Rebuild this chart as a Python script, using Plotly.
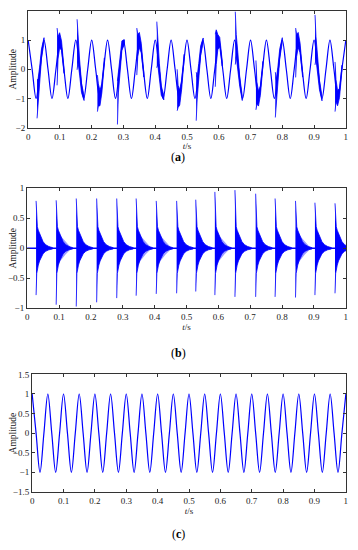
import plotly.graph_objects as go

# ---------------- data ----------------
# 20 Hz carrier, key points every quarter period (peaks / zero crossings / troughs)
sine_t = [0, 0.0125, 0.025, 0.0375, 0.05, 0.0625, 0.075, 0.0875, 0.1, 0.1125,
          0.125, 0.1375, 0.15, 0.1625, 0.175, 0.1875, 0.2, 0.2125, 0.225, 0.2375,
          0.25, 0.2625, 0.275, 0.2875, 0.3, 0.3125, 0.325, 0.3375, 0.35, 0.3625,
          0.375, 0.3875, 0.4, 0.4125, 0.425, 0.4375, 0.45, 0.4625, 0.475, 0.4875,
          0.5, 0.5125, 0.525, 0.5375, 0.55, 0.5625, 0.575, 0.5875, 0.6, 0.6125,
          0.625, 0.6375, 0.65, 0.6625, 0.675, 0.6875, 0.7, 0.7125, 0.725, 0.7375,
          0.75, 0.7625, 0.775, 0.7875, 0.8, 0.8125, 0.825, 0.8375, 0.85, 0.8625,
          0.875, 0.8875, 0.9, 0.9125, 0.925, 0.9375, 0.95, 0.9625, 0.975, 0.9875, 1.0]
sine_v = [1, 0, -1, 0, 1, 0, -1, 0, 1, 0, -1, 0, 1, 0, -1, 0, 1, 0, -1, 0,
          1, 0, -1, 0, 1, 0, -1, 0, 1, 0, -1, 0, 1, 0, -1, 0, 1, 0, -1, 0,
          1, 0, -1, 0, 1, 0, -1, 0, 1, 0, -1, 0, 1, 0, -1, 0, 1, 0, -1, 0,
          1, 0, -1, 0, 1, 0, -1, 0, 1, 0, -1, 0, 1, 0, -1, 0, 1, 0, -1, 0, 1]

# impulse instants (s)
imp_t = [0.028, 0.091, 0.154, 0.218, 0.281, 0.342, 0.405, 0.469,
         0.529, 0.589, 0.652, 0.717, 0.778, 0.842, 0.903, 0.966]

# panel (b): impulse peaks
b_pos = [0.79, 0.80, 0.83, 0.83, 0.83, 0.83, 0.79, 0.79,
         0.81, 0.94, 0.97, 0.91, 0.83, 0.79, 0.76, 0.75]
b_neg = [-0.78, -0.94, -0.97, -0.90, -0.83, -0.79, -0.76, -0.75,
         -0.72, -0.78, -0.81, -0.81, -0.81, -0.82, -0.78, -0.75]
# panel (b): common ringing envelope after each impulse
b_off = [0.002, 0.004, 0.007, 0.011, 0.016, 0.022, 0.030, 0.040, 0.052]
b_up = [0.45, 0.36, 0.30, 0.24, 0.17, 0.11, 0.06, 0.03, 0.01]
b_lo = [-0.42, -0.34, -0.28, -0.21, -0.15, -0.09, -0.05, -0.025, -0.01]
# lighter secondary ringing seen after some impulses
echo_idx = [1, 5, 6, 9, 13]
echo_off = [0.004, 0.015, 0.030, 0.045]
echo_up = [0.30, 0.20, 0.10, 0.02]
echo_lo = [-0.30, -0.20, -0.10, -0.02]
baseline_t = [0, 1]
baseline_v = [0, 0]

# panel (a): bursts riding on the carrier
a_hi = [-0.35, 1.41, 1.71, -0.20, -0.40, 1.41, 1.63, 0.00,
        -0.10, 1.20, 1.97, 0.30, -0.10, 1.41, 1.86, 0.25]
a_lo = [-1.68, -0.55, -0.02, -1.45, -1.89, -0.20, 0.05, -1.42,
        -1.76, -0.60, 0.16, -1.39, -1.65, -0.28, 0.15, -1.45]
a_off = [0.003, 0.008, 0.014, 0.022]
a_up = [[-0.35, 0.07, 0.70, 1.08], [1.11, 1.25, 0.97, 0.02], [1.02, 0.32, -0.48, -0.91],
        [-0.50, -0.73, -0.48, 0.39], [-0.05, 0.45, 0.97, 1.01], [1.19, 1.26, 0.89, -0.11],
        [0.92, 0.20, -0.57, -0.89], [-0.55, -0.71, -0.38, 0.51], [-0.26, 0.20, 0.80, 1.07],
        [1.35, 1.19, 1.09, 0.27], [1.19, 0.57, -0.27, -0.91], [-0.43, -0.74, -0.57, 0.27],
        [-0.35, 0.07, 0.70, 1.08], [1.19, 1.26, 0.89, -0.11], [1.11, 0.45, -0.38, -0.92],
        [-0.35, -0.73, -0.65, 0.14]]
a_dn = [[-1.11, -0.45, 0.38, 0.92], [0.35, 0.73, 0.65, -0.14], [0.26, -0.20, -0.80, -1.07],
        [-1.26, -1.25, -0.80, 0.23], [-0.81, -0.07, 0.65, 0.85], [0.43, 0.74, 0.57, -0.27],
        [0.16, -0.32, -0.89, -1.05], [-1.31, -1.23, -0.70, 0.35], [-1.02, -0.32, 0.48, 0.91],
        [0.16, 0.67, 0.77, 0.11], [0.43, 0.05, -0.59, -1.07], [-1.19, -1.26, -0.89, 0.11],
        [-1.11, -0.45, 0.38, 0.92], [0.43, 0.74, 0.57, -0.27], [0.35, -0.07, -0.70, -1.08],
        [-1.11, -1.25, -0.97, -0.02]]

x_ticks = [0, 0.1, 0.2, 0.3, 0.4, 0.5, 0.6, 0.7, 0.8, 0.9, 1]
x_ticklabels = ["0", "0.1", "0.2", "0.3", "0.4", "0.5", "0.6", "0.7", "0.8", "0.9", "1"]
ya_ticks = [-2, -1, 0, 1, 2]
yb_ticks = [-1, -0.5, 0, 0.5, 1]
yc_ticks = [-1.5, -1, -0.5, 0, 0.5, 1, 1.5]
panel_labels = ["(<b>a</b>)", "(<b>b</b>)", "(<b>c</b>)"]

# ---------------- build figure ----------------
BLUE = "#0000ff"
FONT = "Times New Roman, Liberation Serif, serif"
# the page body has an 8px margin: size the figure so it fits the 358x550 window without scrollbars
OFF = 8
W, H = 358 - 2 * OFF, 550 - 2 * OFF


def px_x(x):
    return (x - OFF) / W


def px_y(y):
    return 1 - (y - OFF) / H


fig = go.Figure()


def burst_polygon(ts, hi, lo, offs, ups, dns, per_impulse):
    xs, ys = [], []
    for i, t0 in enumerate(ts):
        up = ups[i] if per_impulse else ups
        dn = dns[i] if per_impulse else dns
        xs += [t0] + [t0 + o for o in offs] + [t0 + o for o in offs[::-1]] + [t0, None]
        ys += [hi[i]] + list(up) + list(dn[::-1]) + [lo[i], None]
    return xs, ys


# panel (a)
fig.add_trace(go.Scatter(x=sine_t, y=sine_v, mode="lines", line=dict(color=BLUE, width=1.2, shape="spline"),
                         xaxis="x", yaxis="y", showlegend=False, hoverinfo="skip"))
ax, ay = burst_polygon(imp_t, a_hi, a_lo, a_off, a_up, a_dn, True)
fig.add_trace(go.Scatter(x=ax, y=ay, mode="lines", fill="toself", fillcolor=BLUE,
                         line=dict(color=BLUE, width=0.8), xaxis="x", yaxis="y", showlegend=False, hoverinfo="skip"))

# panel (b)
fig.add_trace(go.Scatter(x=baseline_t, y=baseline_v, mode="lines", line=dict(color=BLUE, width=1.4),
                         xaxis="x2", yaxis="y2", showlegend=False, hoverinfo="skip"))
et = [imp_t[i] for i in echo_idx]
ex, ey = burst_polygon(et, [0.3] * len(et), [-0.3] * len(et), echo_off, echo_up, echo_lo, False)
fig.add_trace(go.Scatter(x=ex, y=ey, mode="lines", fill="toself", fillcolor="rgba(40,40,255,0.45)",
                         line=dict(width=0), xaxis="x2", yaxis="y2", showlegend=False, hoverinfo="skip"))
bx, by = burst_polygon(imp_t, b_pos, b_neg, b_off, b_up, b_lo, False)
fig.add_trace(go.Scatter(x=bx, y=by, mode="lines", fill="toself", fillcolor=BLUE,
                         line=dict(color=BLUE, width=0.8), xaxis="x2", yaxis="y2", showlegend=False, hoverinfo="skip"))

# panel (c)
fig.add_trace(go.Scatter(x=sine_t, y=sine_v, mode="lines", line=dict(color=BLUE, width=1.2, shape="spline"),
                         xaxis="x3", yaxis="y3", showlegend=False, hoverinfo="skip"))

AXCOL = "#333333"
common_x = dict(range=[-0.0005, 1.0005], tickvals=x_ticks, ticktext=x_ticklabels, ticks="inside", ticklen=3,
                tickcolor=AXCOL, showline=True, linecolor=AXCOL, linewidth=1, mirror="ticks",
                showgrid=False, zeroline=False, automargin=False,
                tickfont=dict(family=FONT, size=9, color="#222"),
                title=dict(text="<i>t</i>/s", font=dict(family=FONT, size=9, color="#222"), standoff=0))
common_y = dict(ticks="inside", ticklen=3, tickcolor=AXCOL, showline=True, linecolor=AXCOL, linewidth=1,
                mirror="ticks", showgrid=False, zeroline=False, automargin=False,
                tickfont=dict(family=FONT, size=9, color="#222"),
                title=dict(text="Amplitude", font=dict(family=FONT, size=9.5, color="#222"), standoff=4))

fig.update_layout(
    template="none",
    width=W, height=H, margin=dict(l=0, r=0, t=0, b=0, autoexpand=False),
    paper_bgcolor="white", plot_bgcolor="white",
    xaxis=dict(common_x, domain=[px_x(28), px_x(346)], anchor="y"),
    yaxis=dict(common_y, domain=[px_y(127.7), px_y(10.8)], range=[-2, 2], tickvals=ya_ticks, anchor="x"),
    xaxis2=dict(common_x, domain=[px_x(27), px_x(346)], anchor="y2"),
    yaxis2=dict(common_y, domain=[px_y(308.3), px_y(188.3)], range=[-1, 1], tickvals=yb_ticks, anchor="x2"),
    xaxis3=dict(common_x, domain=[px_x(32), px_x(346)], anchor="y3"),
    yaxis3=dict(common_y, domain=[px_y(491.9), px_y(374.4)], range=[-1.5, 1.5], tickvals=yc_ticks,
                anchor="x3"),
)

for lab, ypix in zip(panel_labels, [157, 353, 534]):
    fig.add_annotation(text=lab, xref="paper", yref="paper", x=px_x(178), y=px_y(ypix),
                       showarrow=False, xanchor="center", yanchor="middle",
                       font=dict(family=FONT, size=12, color="black"))

fig.write_html("out.html")
